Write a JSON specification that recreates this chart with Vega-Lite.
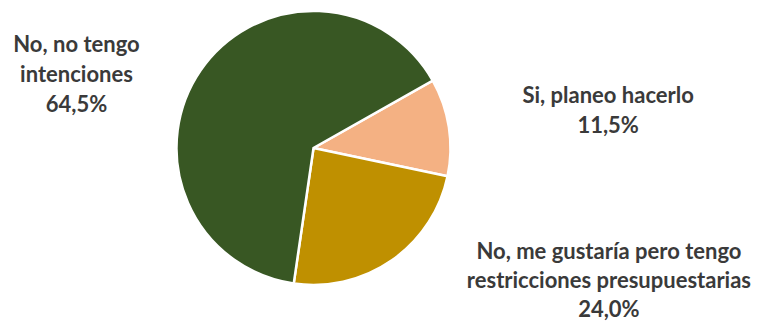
{
  "$schema": "https://vega.github.io/schema/vega-lite/v6.json",
  "width": 627,
  "height": 296,
  "autosize": "none",
  "padding": {"left": 0, "top": 0, "right": 136, "bottom": 29},
  "background": "white",
  "config": {"view": {"stroke": null}},
  "data": {
    "values": [
      {"respuesta": "Si, planeo hacerlo", "porcentaje": 11.5, "orden": 1, "etiqueta": "Si, planeo hacerlo\n11,5%"},
      {"respuesta": "No, me gustaría pero tengo restricciones presupuestarias", "porcentaje": 24.0, "orden": 2, "etiqueta": "No, me gustaría pero tengo\nrestricciones presupuestarias\n24,0%"},
      {"respuesta": "No, no tengo intenciones", "porcentaje": 64.5, "orden": 3, "etiqueta": "No, no tengo\nintenciones\n64,5%"}
    ]
  },
  "encoding": {
    "theta": {"field": "porcentaje", "type": "quantitative", "stack": true, "scale": {"range": [1.056, 7.339]}},
    "order": {"field": "orden", "type": "quantitative"}
  },
  "layer": [
    {
      "mark": {"type": "arc", "outerRadius": 137, "stroke": "white", "strokeWidth": 2.5},
      "encoding": {
        "color": {
          "field": "respuesta", "type": "nominal", "legend": null,
          "scale": {
            "domain": ["Si, planeo hacerlo", "No, me gustaría pero tengo restricciones presupuestarias", "No, no tengo intenciones"],
            "range": ["#F4B183", "#BF9000", "#385723"]
          }
        }
      }
    },
    {
      "mark": {"type": "text", "radius": 200, "dx": 97, "dy": -14, "align": "center", "baseline": "alphabetic", "lineBreak": "\n", "lineHeight": 30, "font": "Lato", "fontWeight": "bold", "fontSize": 22, "fill": "#3a3a3a"},
      "encoding": {"text": {"condition": {"test": "datum.orden == 1", "field": "etiqueta"}, "value": ""}}
    },
    {
      "mark": {"type": "text", "radius": 200, "dx": 181, "dy": -53, "align": "center", "baseline": "alphabetic", "lineBreak": "\n", "lineHeight": 29, "font": "Lato", "fontWeight": "bold", "fontSize": 22, "fill": "#3a3a3a"},
      "encoding": {"text": {"condition": {"test": "datum.orden == 2", "field": "etiqueta"}, "value": ""}}
    },
    {
      "mark": {"type": "text", "radius": 200, "dx": -72, "dy": 17, "align": "center", "baseline": "alphabetic", "lineBreak": "\n", "lineHeight": 30, "font": "Lato", "fontWeight": "bold", "fontSize": 22, "fill": "#3a3a3a"},
      "encoding": {"text": {"condition": {"test": "datum.orden == 3", "field": "etiqueta"}, "value": ""}}
    }
  ]
}
